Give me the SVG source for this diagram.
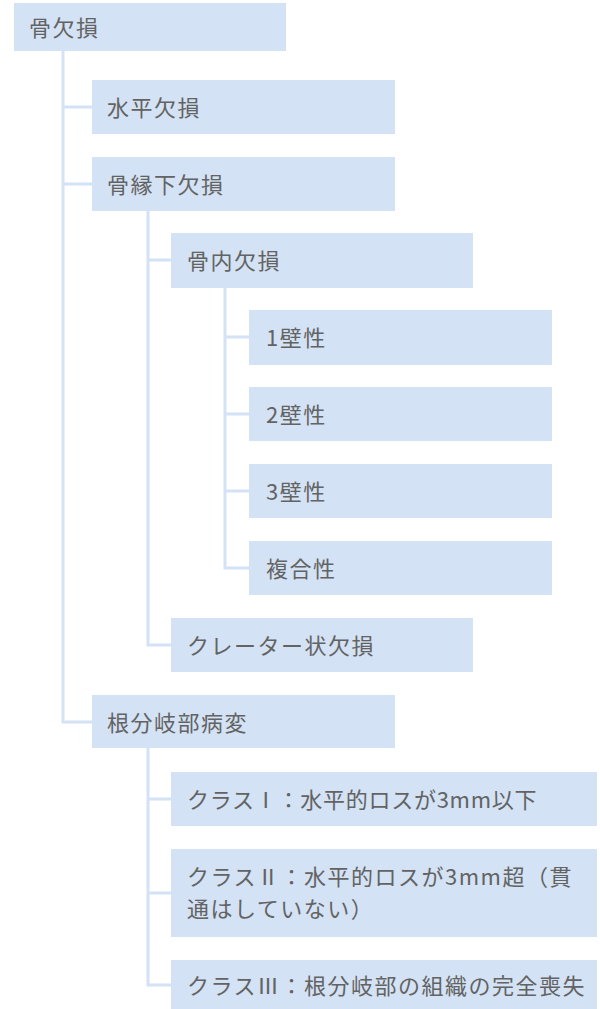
<svg xmlns="http://www.w3.org/2000/svg" width="600" height="1009" viewBox="0 0 600 1009">
<style>
.box{fill:#d3e2f4;}
.t{font-family:"Noto Sans CJK JP","Noto Sans",sans-serif;font-size:22px;fill:#636363;letter-spacing:1.5px;dominant-baseline:central;}
.ln{stroke:#d3e2f4;stroke-width:3;fill:none;}
</style>
<rect width="600" height="1009" fill="#ffffff"/>
<g id="connectors">
<path class="ln" d="M63 51 V722 H92 M63 107 H92 M63 184 H92"/>
<path class="ln" d="M148 211 V645 H171 M148 260 H171"/>
<path class="ln" d="M225 288 V568 H249 M225 337 H249 M225 414 H249 M225 491 H249"/>
<path class="ln" d="M148 748 V985 H171 M148 799 H171 M148 893 H171"/>
</g>
<g id="n1"><rect class="box" x="14" y="3" width="272" height="48"/><text class="t" x="29" y="26">骨欠損</text></g>
<g id="n2"><rect class="box" x="92" y="80" width="303" height="54"/><text class="t" x="107" y="106">水平欠損</text></g>
<g id="n3"><rect class="box" x="92" y="157" width="303" height="54"/><text class="t" x="107" y="183">骨縁下欠損</text></g>
<g id="n4"><rect class="box" x="171" y="233" width="302" height="55"/><text class="t" x="187" y="259">骨内欠損</text></g>
<g id="n5"><rect class="box" x="249" y="310" width="303" height="55"/><text class="t" x="266" y="336">1壁性</text></g>
<g id="n6"><rect class="box" x="249" y="387" width="303" height="54"/><text class="t" x="266" y="413">2壁性</text></g>
<g id="n7"><rect class="box" x="249" y="464" width="303" height="54"/><text class="t" x="266" y="490">3壁性</text></g>
<g id="n8"><rect class="box" x="249" y="541" width="303" height="54"/><text class="t" x="266" y="567">複合性</text></g>
<g id="n9"><rect class="box" x="171" y="618" width="302" height="54"/><text class="t" x="187" y="644">クレーター状欠損</text></g>
<g id="n10"><rect class="box" x="92" y="695" width="303" height="53"/><text class="t" x="107" y="721">根分岐部病変</text></g>
<g id="n11"><rect class="box" x="171" y="772" width="426" height="54"/><text class="t" x="187" y="798" textLength="351" lengthAdjust="spacing">クラスⅠ：水平的ロスが3mm以下</text></g>
<g id="n12"><rect class="box" x="171" y="849" width="426" height="88"/><text class="t" x="187" y="875" textLength="386" lengthAdjust="spacing">クラスⅡ：水平的ロスが3mm超（貫</text><text class="t" x="187" y="907">通はしていない）</text></g>
<g id="n13"><rect class="box" x="171" y="960" width="426" height="49"/><text class="t" x="187" y="984">クラスⅢ：根分岐部の組織の完全喪失</text></g>
</svg>
